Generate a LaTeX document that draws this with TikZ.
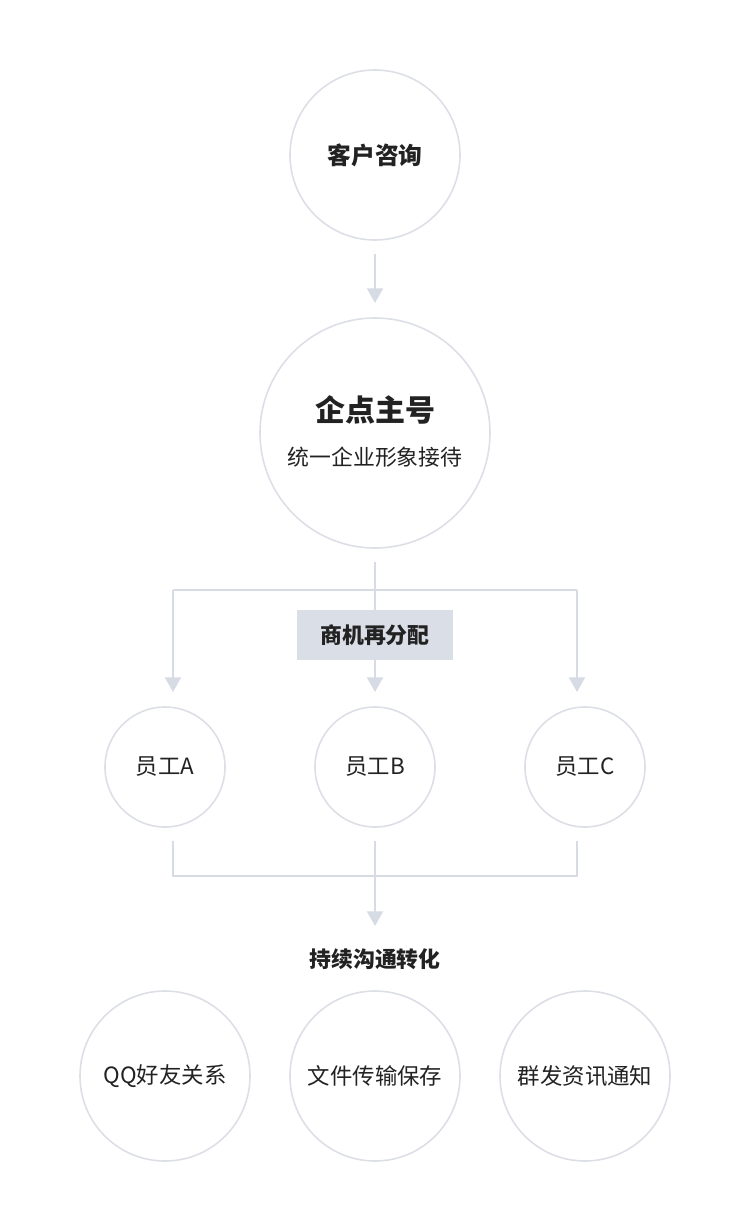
\documentclass[tikz,border=0pt]{standalone}
\usepackage{fontspec}
\setmainfont{Noto Sans CJK SC}
\usetikzlibrary{arrows.meta,positioning}
\definecolor{ringgray}{HTML}{DDDFE6}
\definecolor{linegray}{HTML}{D6DBE4}
\definecolor{boxgray}{HTML}{DADEE7}
\definecolor{textdark}{HTML}{222222}
\tikzset{
  ring/.style={circle, draw=ringgray, line width=1.2pt, inner sep=0pt, text=textdark, align=center},
  flow/.style={draw=linegray, line width=1.5pt, -{Triangle[width=12pt,length=11pt]}},
  link/.style={draw=linegray, line width=1.5pt},
}
\begin{document}
\begin{tikzpicture}[x=0.75pt,y=-0.75pt]
\useasboundingbox (0,0) rectangle (750,1231);
% circles
\node[ring, minimum size=127.5pt, font=\fontsize{17.8}{20}\selectfont\bfseries] (ask) at (375,155) {客户咨询};
\node[ring, minimum size=172.5pt] (main) at (375,433) {};
\node[font=\fontsize{22.5}{26}\selectfont\bfseries, text=textdark] (mainT) at (375,410) {企点主号};
\node[font=\fontsize{16.4}{19}\selectfont, text=textdark] (mainS) at (375,457) {统一企业形象接待};
\node[ring, minimum size=90pt, font=\fontsize{16.8}{19}\selectfont] (ea) at (165,767) {员工A};
\node[ring, minimum size=90pt, font=\fontsize{16.8}{19}\selectfont] (eb) at (375,767) {员工B};
\node[ring, minimum size=90pt, font=\fontsize{16.8}{19}\selectfont] (ec) at (585,767) {员工C};
\node[ring, minimum size=127.5pt, font=\fontsize{16.8}{19}\selectfont] (qq) at (165,1076) {QQ好友关系};
\node[ring, minimum size=127.5pt, font=\fontsize{16.8}{19}\selectfont] (file) at (375,1076) {文件传输保存};
\node[ring, minimum size=127.5pt, font=\fontsize{16.8}{19}\selectfont] (msg) at (585,1076) {群发资讯通知};
% labels
\node[fill=boxgray, minimum width=117pt, minimum height=37.5pt, text=textdark, font=\fontsize{16.4}{19}\selectfont\bfseries] (split) at (375,635) {商机再分配};
\node[text=textdark, font=\fontsize{16.4}{19}\selectfont\bfseries] (keep) at (375,959) {持续沟通转化};
% junctions
\coordinate (a1) at (375,254); \coordinate (a2) at (375,303);
\coordinate (b0) at (375,562); \coordinate (bm) at (375,590);
\coordinate (bl) at (173,590); \coordinate (br) at (577,590);
\coordinate (blE) at (173,692); \coordinate (bmE) at (375,692); \coordinate (brE) at (577,692);
\coordinate (cl) at (173,841); \coordinate (cm) at (375,841); \coordinate (cr) at (577,841);
\coordinate (clB) at (173,876); \coordinate (crB) at (577,876); \coordinate (cmE) at (375,926);
% connectors
\draw[flow] (a1) -- (a2);
\draw[link] (b0) -- (split.north);
\draw[link] (bl) -- (br);
\draw[flow] (bl) -- (blE);
\draw[flow] (br) -- (brE);
\draw[flow] (split.south) -- (bmE);
\draw[link] (cl) -- (clB) -- (crB) -- (cr);
\draw[flow] (cm) -- (cmE);
\end{tikzpicture}
\end{document}
